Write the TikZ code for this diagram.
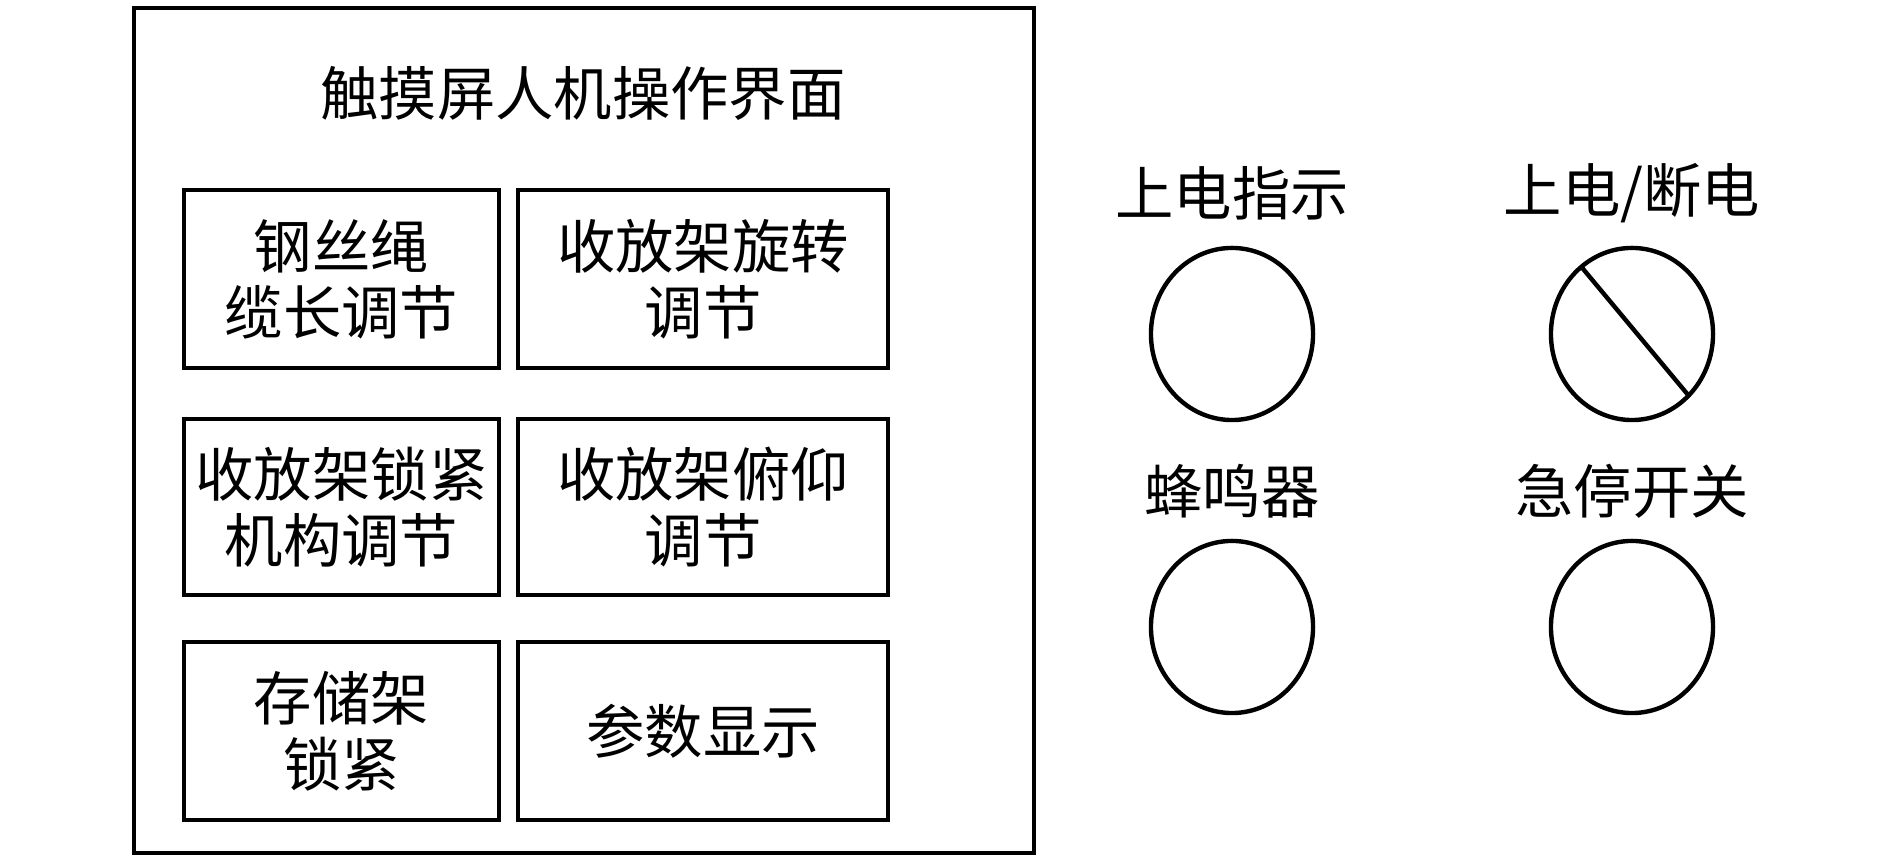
\documentclass[tikz,border=0pt]{standalone}
\usepackage{fontspec}
\newfontfamily\cjk{Noto Sans CJK SC}
\begin{document}
\begin{tikzpicture}[x=0.01cm,y=-0.01cm,line width=1.25pt,
  txt/.style={font=\cjk\fontsize{16.6pt}{18.8pt}\selectfont, align=center, inner sep=0pt},
  panel/.style={draw, minimum width=9cm, minimum height=8.45cm, inner sep=0pt},
  lbox/.style={draw, txt, minimum width=3.15cm, minimum height=1.78cm},
  rbox/.style={draw, txt, minimum width=3.7cm, minimum height=1.78cm}]
\useasboundingbox (0,0) rectangle (1890,862);
\node[panel] (panel) at (584,430.5) {};
\node[txt] (title) at (583,93) {触摸屏人机操作界面};
\node[lbox] (b11) at (341.5,279) {钢丝绳\\缆长调节};
\node[rbox] (b12) at (703,279) {收放架旋转\\调节};
\node[lbox, minimum height=1.76cm] (b21) at (341.5,507) {收放架锁紧\\机构调节};
\node[rbox, minimum height=1.76cm] (b22) at (703,507) {收放架俯仰\\调节};
\node[lbox] (b31) at (341.5,731) {存储架\\锁紧};
\node[rbox] (b32) at (703,731) {参数显示};
\node[txt] (l1) at (1232,193) {上电指示};
\node[txt] (l2) at (1632,193) {上电/断电};
\node[txt] (l3) at (1232,491) {蜂鸣器};
\node[txt] (l4) at (1632,491) {急停开关};
\draw (1232,334) coordinate (c1) ellipse [x radius=0.81cm, y radius=0.86cm];
\draw (1632,334) coordinate (c2) ellipse [x radius=0.81cm, y radius=0.86cm];
\draw (1232,627) coordinate (c3) ellipse [x radius=0.81cm, y radius=0.86cm];
\draw (1632,627) coordinate (c4) ellipse [x radius=0.81cm, y radius=0.86cm];
\path (c2) ++(128.7:0.81cm and 0.86cm) coordinate (s1);
\path (c2) ++(-45.7:0.81cm and 0.86cm) coordinate (s2);
\draw (s1) -- (s2);
\end{tikzpicture}
\end{document}
